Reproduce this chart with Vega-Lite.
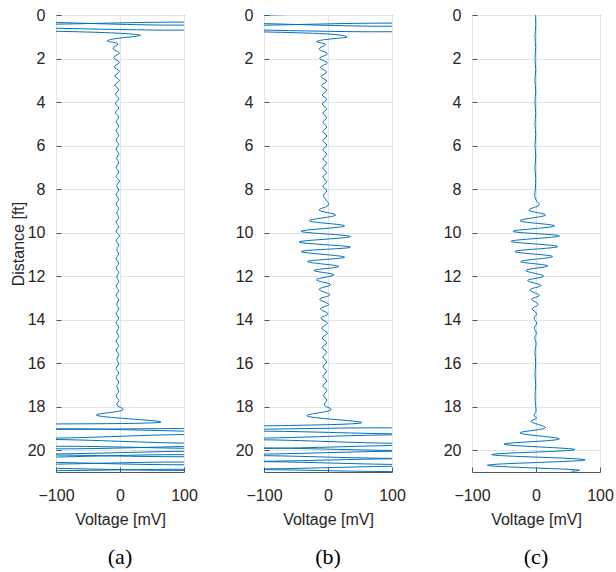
{
  "$schema": "https://vega.github.io/schema/vega-lite/v6.json",
  "background": "white",
  "padding": {"left": 9, "top": 6, "right": 4, "bottom": 4},
  "spacing": 80,
  "bounds": "flush",
  "config": {
    "font": "Liberation Sans",
    "view": {"stroke": "#555555", "strokeWidth": 1},
    "axis": {
      "grid": true, "gridColor": "#e4e4e4", "gridWidth": 1,
      "domain": false, "tickSize": -5, "tickColor": "#555555",
      "labelFontSize": 16, "labelColor": "#262626", "labelFlush": false,
      "titleFontSize": 16, "titleFontWeight": "normal", "titleColor": "#262626"
    },
    "axisX": {"labelPadding": 20, "titlePadding": 8},
    "axisY": {"labelPadding": 16, "titlePadding": 1},
    "title": {"font": "Liberation Serif", "fontSize": 22, "fontWeight": "normal", "color": "#000000", "orient": "bottom", "anchor": "middle", "offset": 20}
  },
  "datasets": {
    "a": [
      {"d":0.02,"v":-160},{"d":0.08,"v":160},
      {"d":0.30,"v":160},{"d":0.36,"v":-160},
      {"d":0.39,"v":-160},{"d":0.45,"v":160},
      {"d":0.57,"v":160},{"d":0.63,"v":-160},
      {"d":0.72,"v":-150},{"d":0.75,"v":-95},{"d":0.78,"v":-55},{"d":0.82,"v":-15},{"d":0.87,"v":15},{"d":0.93,"v":32},{"d":0.99,"v":22},{"d":1.06,"v":0},{"d":1.13,"v":-15},{"d":1.19,"v":-20},{"d":1.26,"v":-10},{"d":1.33,"v":-3},
      {"d":1.54,"v":-11},{"d":1.75,"v":-1},{"d":1.96,"v":-10},{"d":2.17,"v":-1},{"d":2.38,"v":-9},{"d":2.59,"v":-1},{"d":2.80,"v":-8},{"d":3.01,"v":-1},{"d":3.22,"v":-8},{"d":3.43,"v":-2},{"d":3.64,"v":-7},{"d":3.85,"v":-2},{"d":4.06,"v":-7},{"d":4.27,"v":-2},{"d":4.48,"v":-7},{"d":4.69,"v":-2},{"d":4.90,"v":-6},{"d":5.11,"v":-2},
      {"d":5.32,"v":-6},{"d":5.53,"v":-2},{"d":5.74,"v":-6},{"d":5.95,"v":-2},{"d":6.16,"v":-6},{"d":6.37,"v":-2},{"d":6.58,"v":-5},{"d":6.79,"v":-2},{"d":7.00,"v":-6},{"d":7.21,"v":-2},{"d":7.42,"v":-6},{"d":7.63,"v":-1},{"d":7.84,"v":-5},{"d":8.05,"v":-2},{"d":8.26,"v":-6},{"d":8.47,"v":-2},{"d":8.68,"v":-6},{"d":8.89,"v":-2},{"d":9.10,"v":-5},{"d":9.31,"v":-2},{"d":9.52,"v":-6},{"d":9.73,"v":-2},{"d":9.94,"v":-6},{"d":10.15,"v":-1},{"d":10.36,"v":-6},{"d":10.57,"v":-2},{"d":10.78,"v":-5},{"d":10.99,"v":-2},{"d":11.20,"v":-6},{"d":11.41,"v":-2},{"d":11.62,"v":-6},{"d":11.83,"v":-2},{"d":12.04,"v":-5},{"d":12.25,"v":-2},{"d":12.46,"v":-6},{"d":12.67,"v":-2},{"d":12.88,"v":-6},{"d":13.09,"v":-2},{"d":13.30,"v":-5},{"d":13.51,"v":-2},{"d":13.72,"v":-6},{"d":13.93,"v":-2},{"d":14.14,"v":-6},{"d":14.35,"v":-2},{"d":14.56,"v":-5},{"d":14.77,"v":-2},{"d":14.98,"v":-6},{"d":15.19,"v":-2},{"d":15.40,"v":-6},{"d":15.61,"v":-2},{"d":15.82,"v":-5},{"d":16.03,"v":-2},{"d":16.24,"v":-6},{"d":16.45,"v":-2},{"d":16.66,"v":-6},{"d":16.87,"v":-2},{"d":17.08,"v":-5},{"d":17.29,"v":-2},{"d":17.50,"v":-6},{"d":17.71,"v":-2},{"d":17.92,"v":-5},
      {"d":18.13,"v":5},{"d":18.38,"v":-37},{"d":18.70,"v":64},{"d":18.86,"v":-200},
      {"d":19.01,"v":-160},{"d":19.07,"v":160},
      {"d":19.10,"v":160},{"d":19.16,"v":-160},
      {"d":19.33,"v":-160},{"d":19.39,"v":160},
      {"d":19.56,"v":160},{"d":19.62,"v":-160},
      {"d":19.79,"v":-160},{"d":19.85,"v":160},
      {"d":19.88,"v":160},{"d":19.94,"v":-160},
      {"d":20.06,"v":-160},{"d":20.12,"v":160},
      {"d":20.20,"v":160},{"d":20.26,"v":-160},
      {"d":20.29,"v":-160},{"d":20.35,"v":160},
      {"d":20.52,"v":160},{"d":20.58,"v":-160},
      {"d":20.61,"v":-160},{"d":20.67,"v":160},
      {"d":20.80,"v":160},{"d":20.86,"v":-160},
      {"d":20.89,"v":-160},{"d":20.95,"v":160},
      {"d":21.0,"v":160}
    ],
    "b": [
      {"d":0.07,"v":-160},{"d":0.13,"v":160},
      {"d":0.35,"v":160},{"d":0.41,"v":-160},
      {"d":0.44,"v":-160},{"d":0.50,"v":160},
      {"d":0.63,"v":160},{"d":0.69,"v":-160},
      {"d":0.75,"v":-150},{"d":0.78,"v":-95},{"d":0.81,"v":-55},{"d":0.85,"v":-15},{"d":0.90,"v":12},{"d":0.96,"v":26},{"d":1.01,"v":30},{"d":1.07,"v":15},{"d":1.13,"v":-5},{"d":1.22,"v":-18},{"d":1.29,"v":-10},{"d":1.36,"v":-4},
      {"d":1.57,"v":-14},{"d":1.78,"v":-1},{"d":1.99,"v":-13},{"d":2.20,"v":-1},{"d":2.41,"v":-12},{"d":2.62,"v":-2},{"d":2.83,"v":-11},{"d":3.04,"v":-2},{"d":3.25,"v":-10},{"d":3.46,"v":-2},{"d":3.67,"v":-9},{"d":3.88,"v":-2},{"d":4.09,"v":-9},{"d":4.30,"v":-2},{"d":4.51,"v":-8},{"d":4.72,"v":-2},{"d":4.93,"v":-8},{"d":5.14,"v":-2},{"d":5.35,"v":-8},{"d":5.56,"v":-2},{"d":5.77,"v":-8},{"d":5.98,"v":-2},{"d":6.19,"v":-8},{"d":6.40,"v":-2},{"d":6.61,"v":-8},{"d":6.82,"v":-2},{"d":7.03,"v":-8},{"d":7.24,"v":-2},{"d":7.45,"v":-8},{"d":7.66,"v":-2},{"d":7.87,"v":-8},{"d":8.08,"v":-2},{"d":8.29,"v":-7},
      {"d":8.72,"v":1},{"d":8.96,"v":-14},{"d":9.19,"v":12},{"d":9.45,"v":-29},{"d":9.69,"v":26},{"d":9.94,"v":-42},{"d":10.18,"v":35},{"d":10.43,"v":-45},{"d":10.67,"v":35},{"d":10.87,"v":-42},{"d":11.13,"v":26},{"d":11.33,"v":-32},{"d":11.56,"v":17},{"d":11.74,"v":-22},{"d":11.94,"v":9},{"d":12.17,"v":-18},{"d":12.39,"v":4},{"d":12.61,"v":-14},{"d":12.86,"v":3},{"d":13.06,"v":-13},{"d":13.30,"v":1},{"d":13.50,"v":-12},{"d":13.73,"v":0},{"d":13.93,"v":-11},{"d":14.16,"v":-1},{"d":14.39,"v":-10},{"d":14.62,"v":-1},
      {"d":14.84,"v":-9},{"d":15.06,"v":-2},{"d":15.28,"v":-9},{"d":15.50,"v":-2},{"d":15.72,"v":-8},{"d":15.94,"v":-2},{"d":16.16,"v":-8},{"d":16.38,"v":-2},{"d":16.60,"v":-8},{"d":16.82,"v":-2},{"d":17.04,"v":-8},{"d":17.26,"v":-2},{"d":17.48,"v":-7},{"d":17.70,"v":-2},{"d":17.92,"v":-6},
      {"d":18.13,"v":5},{"d":18.41,"v":-33},{"d":18.73,"v":53},{"d":18.95,"v":-200},
      {"d":19.03,"v":-160},{"d":19.09,"v":160},
      {"d":19.17,"v":160},{"d":19.23,"v":-160},
      {"d":19.35,"v":-160},{"d":19.41,"v":160},
      {"d":19.57,"v":160},{"d":19.63,"v":-160},
      {"d":19.79,"v":-160},{"d":19.85,"v":160},
      {"d":19.93,"v":160},{"d":19.99,"v":-160},
      {"d":20.09,"v":-160},{"d":20.15,"v":160},
      {"d":20.27,"v":160},{"d":20.33,"v":-160},
      {"d":20.42,"v":-160},{"d":20.48,"v":160},
      {"d":20.57,"v":160},{"d":20.63,"v":-160},
      {"d":20.75,"v":-160},{"d":20.81,"v":160},
      {"d":20.89,"v":160},{"d":20.95,"v":-160},
      {"d":21.0,"v":-160}
    ],
    "c": [
      {"d":0.0,"v":-1},{"d":0.5,"v":-0.5},{"d":1.0,"v":-1.5},{"d":1.5,"v":-0.5},{"d":2.0,"v":-1.5},{"d":2.5,"v":-0.5},{"d":3.0,"v":-1.5},{"d":3.5,"v":-0.5},{"d":4.0,"v":-1.5},{"d":4.5,"v":-0.5},{"d":5.0,"v":-1.5},{"d":5.5,"v":-0.5},{"d":6.0,"v":-1.5},{"d":6.5,"v":-0.5},{"d":7.0,"v":-1.5},{"d":7.5,"v":-0.5},{"d":8.0,"v":-1},{"d":8.3,"v":-2},{"d":8.5,"v":0},
      {"d":8.72,"v":5},{"d":8.96,"v":-11},{"d":9.19,"v":15},{"d":9.45,"v":-25},{"d":9.69,"v":29},{"d":9.94,"v":-36},{"d":10.15,"v":36.5},{"d":10.40,"v":-39},{"d":10.64,"v":34},{"d":10.87,"v":-33},{"d":11.10,"v":26},{"d":11.33,"v":-24},{"d":11.53,"v":18.5},{"d":11.74,"v":-16},{"d":12.00,"v":12},{"d":12.20,"v":-13},{"d":12.43,"v":8},{"d":12.63,"v":-9.5},{"d":12.89,"v":5},{"d":13.06,"v":-7},{"d":13.30,"v":3.7},{"d":13.50,"v":-6},{"d":13.73,"v":1},{"d":13.93,"v":-3},{"d":14.16,"v":1},{"d":14.39,"v":-2.5},{"d":14.62,"v":0.5},{"d":14.84,"v":-2},{"d":15.06,"v":0},
      {"d":15.5,"v":-1.5},{"d":16.0,"v":-0.5},{"d":16.5,"v":-1.5},{"d":17.0,"v":-0.5},{"d":17.5,"v":-1.5},{"d":18.0,"v":-0.5},{"d":18.2,"v":0},{"d":18.42,"v":-3},{"d":18.52,"v":1},
      {"d":18.67,"v":-8},{"d":18.96,"v":15},{"d":19.20,"v":-25},{"d":19.48,"v":36.5},{"d":19.72,"v":-50},{"d":19.97,"v":61},{"d":20.20,"v":-69},{"d":20.44,"v":77},{"d":20.69,"v":-76},{"d":20.92,"v":68},{"d":20.97,"v":55}
    ]
  },
  "hconcat": [
    {
      "width": 128, "height": 457,
      "data": {"name": "a"},
      "title": {"text": "(a)"},
      "mark": {"type": "line", "clip": true, "strokeWidth": 1, "color": "#0072BD", "interpolate": "catmull-rom"},
      "encoding": {
        "x": {"field": "v", "type": "quantitative", "scale": {"domain": [-100, 100], "nice": false, "zero": false}, "axis": {"values": [-100, 0, 100], "title": "Voltage [mV]"}},
        "y": {"field": "d", "type": "quantitative", "scale": {"domain": [0, 21], "reverse": true, "nice": false, "zero": false}, "axis": {"values": [0, 2, 4, 6, 8, 10, 12, 14, 16, 18, 20], "title": "Distance [ft]"}},
        "order": {"field": "d", "type": "quantitative"}
      }
    },
    {
      "width": 128, "height": 457,
      "data": {"name": "b"},
      "title": {"text": "(b)"},
      "mark": {"type": "line", "clip": true, "strokeWidth": 1, "color": "#0072BD", "interpolate": "catmull-rom"},
      "encoding": {
        "x": {"field": "v", "type": "quantitative", "scale": {"domain": [-100, 100], "nice": false, "zero": false}, "axis": {"values": [-100, 0, 100], "title": "Voltage [mV]"}},
        "y": {"field": "d", "type": "quantitative", "scale": {"domain": [0, 21], "reverse": true, "nice": false, "zero": false}, "axis": {"values": [0, 2, 4, 6, 8, 10, 12, 14, 16, 18, 20], "title": null}},
        "order": {"field": "d", "type": "quantitative"}
      }
    },
    {
      "width": 128, "height": 457,
      "data": {"name": "c"},
      "title": {"text": "(c)"},
      "mark": {"type": "line", "clip": true, "strokeWidth": 1, "color": "#0072BD", "interpolate": "catmull-rom"},
      "encoding": {
        "x": {"field": "v", "type": "quantitative", "scale": {"domain": [-100, 100], "nice": false, "zero": false}, "axis": {"values": [-100, 0, 100], "title": "Voltage [mV]"}},
        "y": {"field": "d", "type": "quantitative", "scale": {"domain": [0, 21], "reverse": true, "nice": false, "zero": false}, "axis": {"values": [0, 2, 4, 6, 8, 10, 12, 14, 16, 18, 20], "title": null}},
        "order": {"field": "d", "type": "quantitative"}
      }
    }
  ]
}
